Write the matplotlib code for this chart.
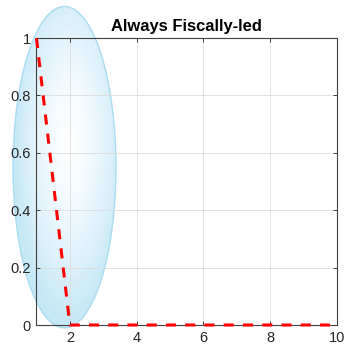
import matplotlib.pyplot as plt
import numpy as np
from matplotlib.patches import Ellipse
from matplotlib.colors import LinearSegmentedColormap

# data
periods = [1, 2, 3, 4, 5, 6, 7, 8, 9, 10]
share = [1, 0, 0, 0, 0, 0, 0, 0, 0, 0]
x_ticks = [2, 4, 6, 8, 10]
y_ticks = [0, 0.2, 0.4, 0.6, 0.8, 1]
ell_center = (1.84, 0.55)
ell_w, ell_h = 3.08, 1.12

plt.rcParams['font.family'] = ['Liberation Sans', 'DejaVu Sans']

fig = plt.figure(figsize=(3.44, 3.47), dpi=100)
ax = fig.add_axes([0.106, 0.0634, 0.874, 0.827])

# highlighted ellipse with radial gradient
ell = Ellipse(ell_center, ell_w, ell_h, facecolor='none', edgecolor='#a9dcf1',
              lw=1.0, clip_on=False, zorder=1.5)
ax.add_patch(ell)

n = 200
gx, gy = np.meshgrid(np.linspace(-1, 1, n), np.linspace(-1, 1, n))
r = np.sqrt(((gx - 0.1) / 1.1) ** 2 + ((gy - 0.15) / 1.1) ** 2)
cmap = LinearSegmentedColormap.from_list(
    'glow', [(0, '#ffffff'), (0.35, '#f3fbfe'), (0.7, '#dbf1fb'), (1, '#c4e7f7')])
x0, y0 = ell_center
im = ax.imshow(np.clip(r, 0, 1), cmap=cmap, origin='lower', aspect='auto',
               extent=[x0 - ell_w / 2, x0 + ell_w / 2, y0 - ell_h / 2, y0 + ell_h / 2],
               interpolation='bilinear', alpha=0.95, zorder=0.5)
im.set_clip_box(fig.bbox)
im.set_clip_path(Ellipse(ell_center, ell_w, ell_h, transform=ax.transData))

ax.plot(periods, share, color='#ff0000', lw=2.2, dashes=(3.3, 3.0), zorder=4,
        clip_on=False)

ax.set_xlim(1, 10)
ax.set_ylim(0, 1)
ax.set_xticks(x_ticks)
ax.set_yticks(y_ticks)
ax.set_yticklabels(['0', '0.2', '0.4', '0.6', '0.8', '1'])
ax.grid(True, color='#dcdcdc', lw=0.6)
ax.set_axisbelow(False)
ax.tick_params(direction='in', top=True, right=True, length=3, width=0.6,
               labelsize=10.5, colors='#262626', pad=4)
for s in ax.spines.values():
    s.set_color('#404040')
    s.set_linewidth(0.8)
    s.set_zorder(3.5)
ax.set_title('Always Fiscally-led', fontsize=11.9, fontweight='bold', pad=5)

fig.savefig('out.png', dpi=100)
